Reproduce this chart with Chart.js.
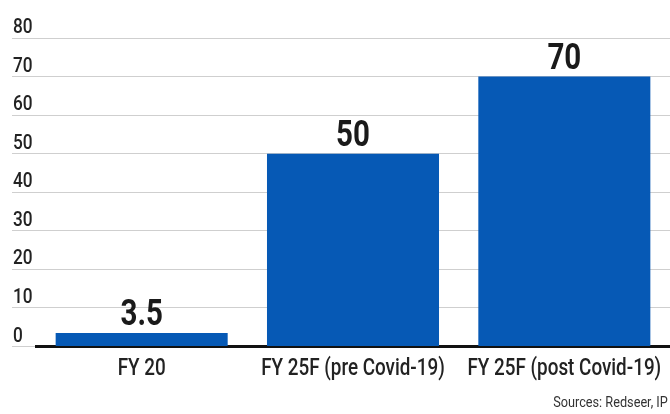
<!DOCTYPE html>
<html>
<head>
<meta charset="utf-8">
<script src="https://cdn.jsdelivr.net/npm/chart.js@4/dist/chart.umd.min.js"></script>
<style>
  body { margin: 0; background: #fff; }
  #wrap { position: relative; width: 670px; height: 414px; }
  #source {
    position: absolute; right: 2px; top: 393px;
    font: 15.5px Roboto, sans-serif;
    color: #333;
    transform: scaleX(0.82);
    transform-origin: right top;
    white-space: nowrap;
  }
</style>
</head>
<body>
<div id="wrap">
  <canvas id="chart" width="670" height="414"></canvas>
  <div id="source">Sources: Redseer, IP</div>
</div>
<script>
const categories = ['FY 20', 'FY 25F (pre Covid-19)', 'FY 25F (post Covid-19)'];
const values = [3.5, 50, 70];
const yTicks = [0, 10, 20, 30, 40, 50, 60, 70, 80];

const BLUE = '#0659b5';
const SX = 0.82; // squeeze text horizontally for a condensed look

// draw text condensed around (x, y)
function narrowText(ctx, text, x, y, align) {
  ctx.save();
  ctx.translate(x, y);
  ctx.scale(SX, 1);
  ctx.textAlign = align;
  ctx.textBaseline = 'alphabetic';
  ctx.fillText(text, 0, 0);
  ctx.restore();
}

// tick labels sit above their grid line, flush left; category names under the axis
const axisLabels = {
  id: 'axisLabels',
  afterDraw(chart) {
    const ctx = chart.ctx;
    const x = chart.scales.x;
    const y = chart.scales.y;
    ctx.save();
    ctx.fillStyle = '#222';
    ctx.font = '500 21px Roboto, sans-serif';
    yTicks.forEach(v => {
      narrowText(ctx, String(v), 13, y.getPixelForValue(v) - 5, 'left');
    });
    ctx.font = '500 23px Roboto, sans-serif';
    categories.forEach((c, i) => {
      narrowText(ctx, c, x.getPixelForValue(i), 375, 'center');
    });
    ctx.restore();
  }
};

// value printed over each bar
const valueLabels = {
  id: 'valueLabels',
  afterDatasetsDraw(chart) {
    const ctx = chart.ctx;
    const meta = chart.getDatasetMeta(0);
    ctx.save();
    ctx.font = 'bold 36px Roboto, sans-serif';
    ctx.fillStyle = '#1a1a1a';
    meta.data.forEach((bar, i) => {
      narrowText(ctx, String(values[i]), bar.x, bar.y - 8, 'center');
    });
    ctx.restore();
  }
};

new Chart(document.getElementById('chart'), {
  type: 'bar',
  data: {
    labels: categories,
    datasets: [{
      data: values,
      backgroundColor: BLUE,
      categoryPercentage: 1,
      barPercentage: 0.814
    }]
  },
  options: {
    responsive: false,
    animation: false,
    layout: { padding: { top: 38, right: 0, bottom: 0, left: 0 } },
    plugins: { legend: { display: false }, tooltip: { enabled: false } },
    scales: {
      x: {
        z: 1,
        grid: { display: false },
        border: { display: true, color: '#111', width: 3 },
        ticks: { display: false },
        afterFit(scale) { scale.height = 67.5; }
      },
      y: {
        min: 0,
        max: 80,
        ticks: { display: false, stepSize: 10 },
        grid: { color: '#cfcfcf', lineWidth: 1, tickLength: 24 },
        border: { display: false },
        afterFit(scale) { scale.width = 36; }
      }
    }
  },
  plugins: [axisLabels, valueLabels]
});
</script>
</body>
</html>
